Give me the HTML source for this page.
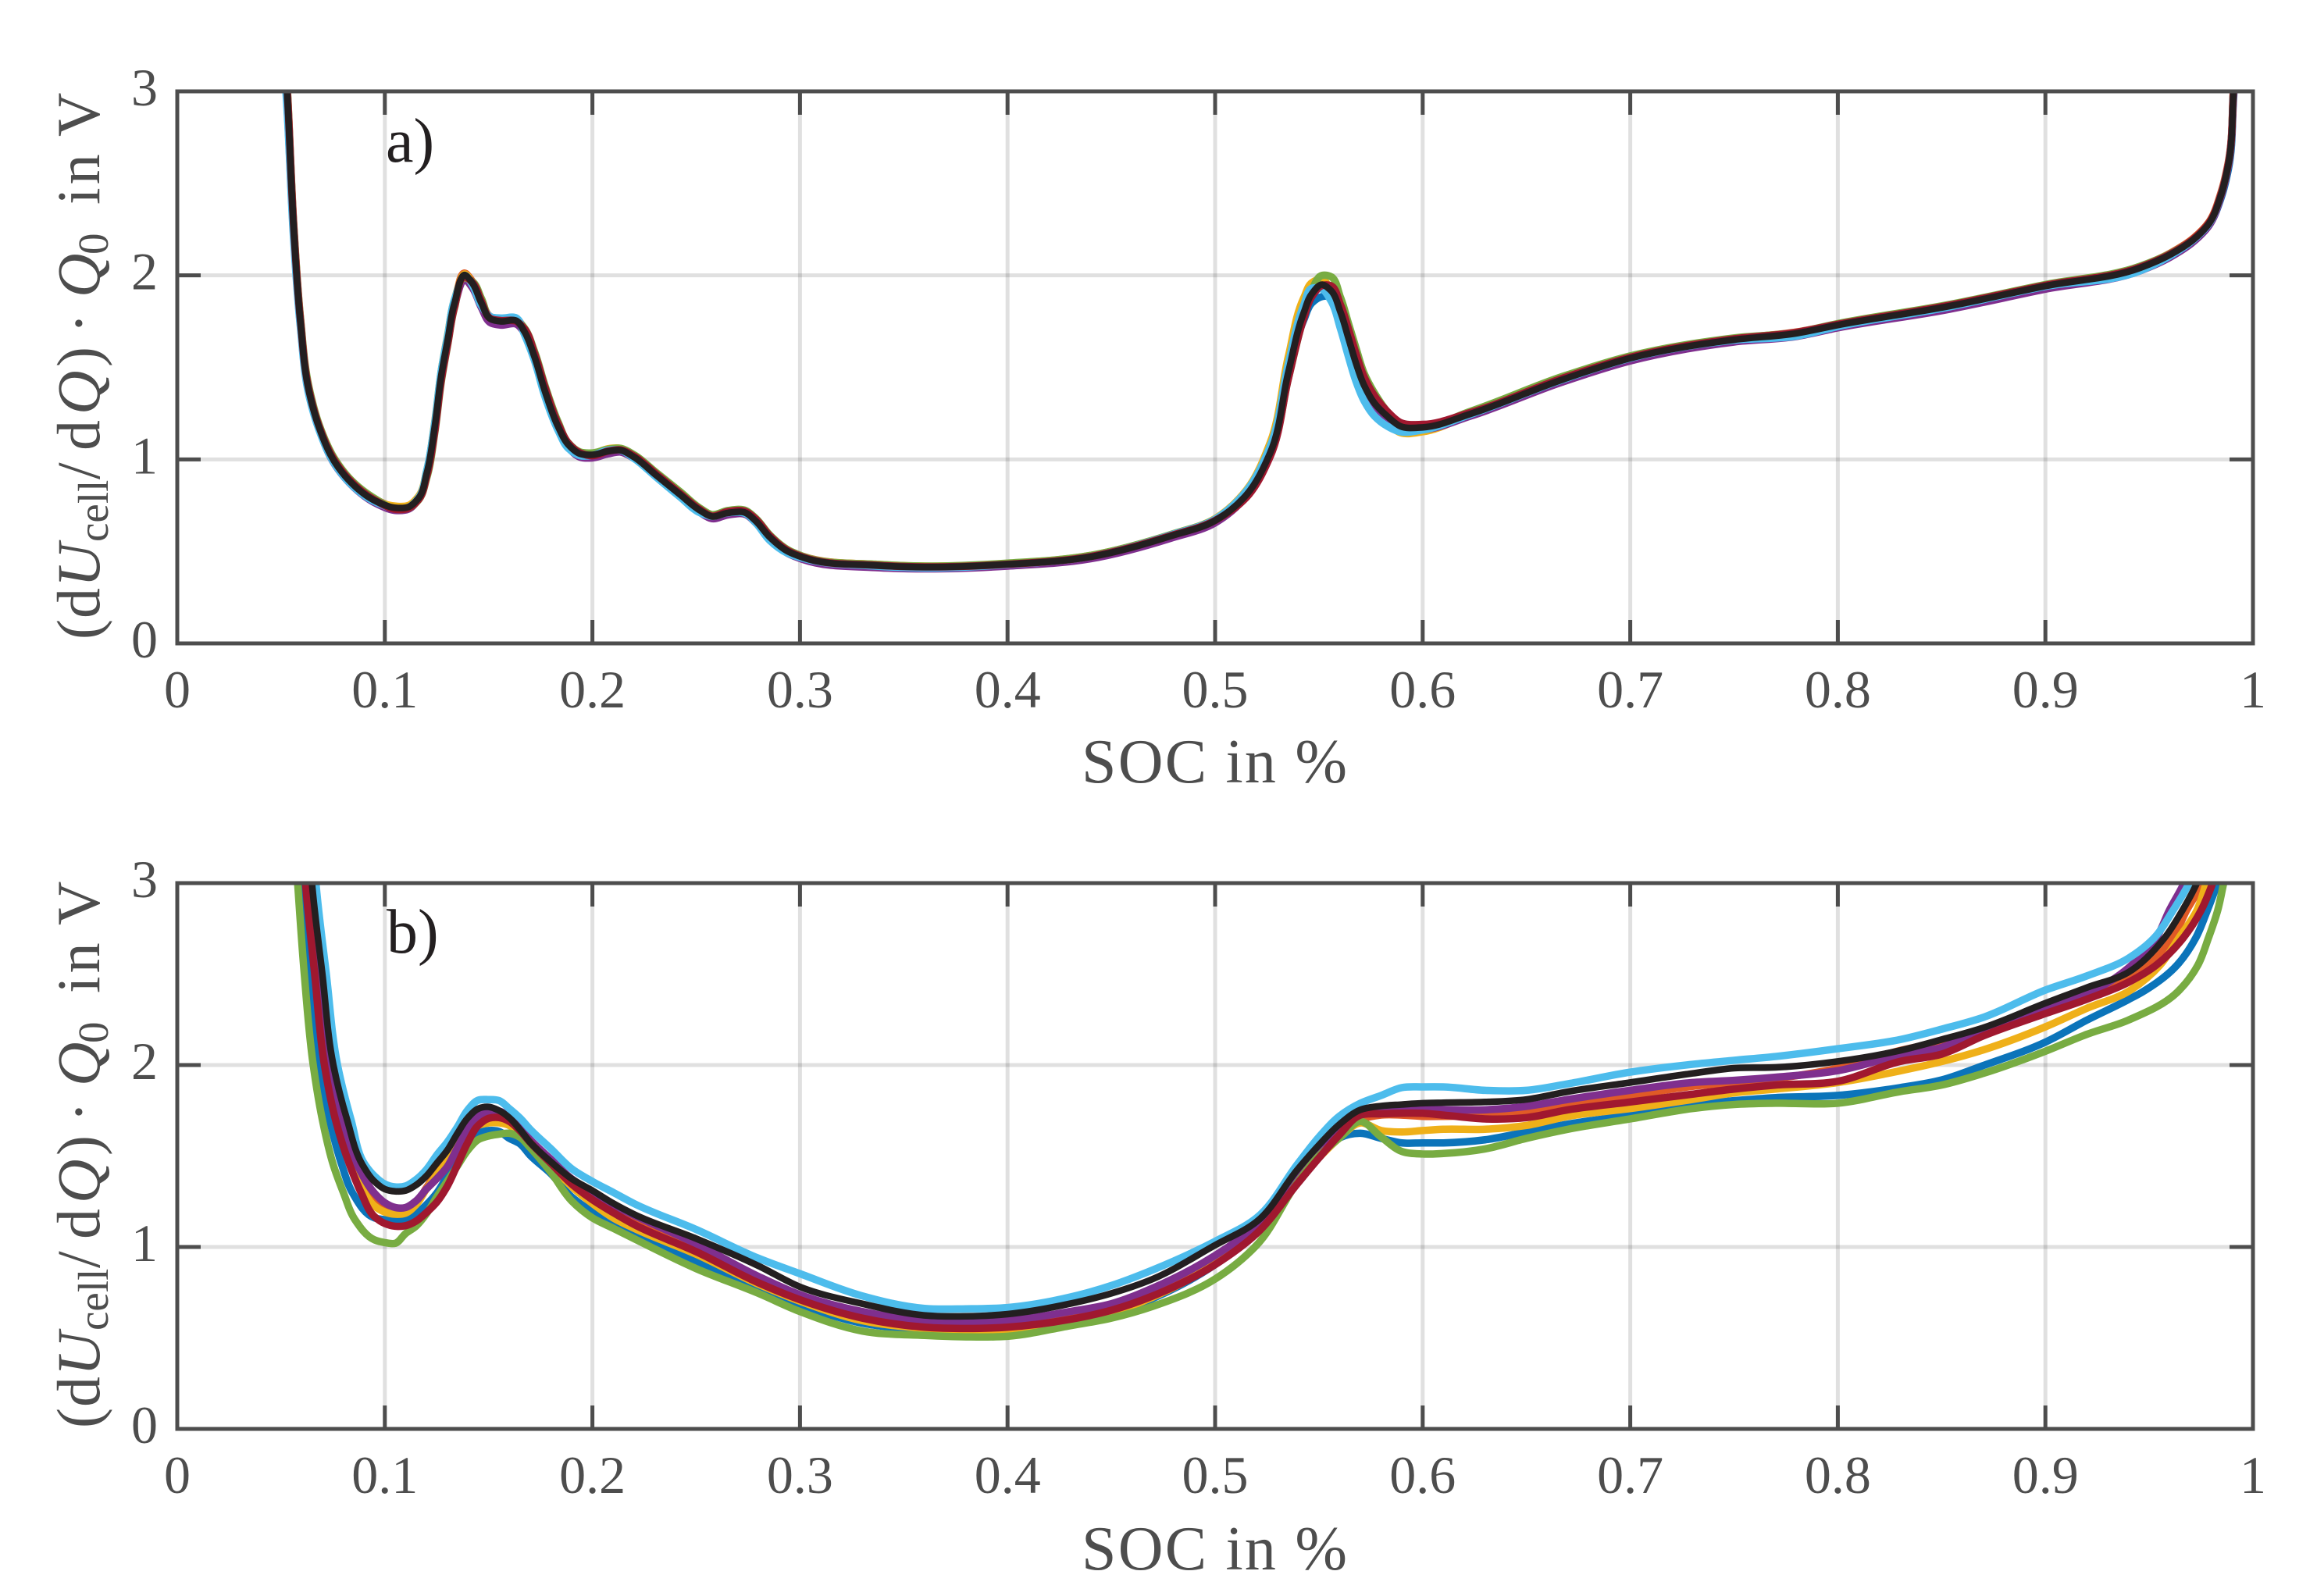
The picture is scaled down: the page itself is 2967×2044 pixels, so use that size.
<!DOCTYPE html>
<html lang="en">
<head>
<meta charset="utf-8">
<title>Differential voltage over SOC</title>
<style>
  html, body { margin: 0; padding: 0; background: #ffffff; }
  svg { display: block; }
  text { font-family: "Liberation Serif", "DejaVu Serif", serif; }
  .tick-label { font-size: 68px; fill: #4d4d4d; }
  .axis-label { font-size: 80px; fill: #4d4d4d; }
  .y-label { font-size: 78px; fill: #4d4d4d; }
  .panel-tag { font-size: 80px; fill: #231f20; }
  .sub { font-size: 55px; }
  .it { font-style: italic; }
</style>
</head>
<body>
<svg id="chart" xmlns="http://www.w3.org/2000/svg" width="2967" height="2044" viewBox="0 0 2967 2044">
  <rect x="0" y="0" width="2967" height="2044" fill="#ffffff"/>
  <defs>
    <clipPath id="clip-a"><rect x="227" y="117" width="2658" height="707"/></clipPath>
    <clipPath id="clip-b"><rect x="227" y="1131" width="2658" height="699"/></clipPath>
  </defs>
  <g id="panel-a"></g>
  <g id="panel-b"></g>

  <text class="panel-tag" x="494" y="207">a)</text>
  <text class="panel-tag" x="495" y="1220">b)</text>

  <text class="axis-label" x="1385" y="1002" textLength="340" lengthAdjust="spacing">SOC in %</text>
  <text class="axis-label" x="1385" y="2010" textLength="340" lengthAdjust="spacing">SOC in %</text>

  <g transform="translate(127,819) rotate(-90)">
    <text class="y-label"><tspan x="0" y="0">(</tspan><tspan x="27" y="0">d</tspan><tspan x="67" y="0" class="it">U</tspan><tspan x="125" y="11" class="sub">cell</tspan><tspan x="205" y="0">/</tspan><tspan x="242" y="0">d</tspan><tspan x="288" y="0" class="it">Q</tspan><tspan x="349" y="0">)</tspan><tspan x="392" y="0">·</tspan><tspan x="438" y="0" class="it">Q</tspan><tspan x="493" y="11" class="sub">0</tspan><tspan x="557" y="0" letter-spacing="4">in</tspan><tspan x="644" y="0">V</tspan></text>
  </g>
  <g transform="translate(127,1829) rotate(-90)">
    <text class="y-label"><tspan x="0" y="0">(</tspan><tspan x="27" y="0">d</tspan><tspan x="67" y="0" class="it">U</tspan><tspan x="125" y="11" class="sub">cell</tspan><tspan x="205" y="0">/</tspan><tspan x="242" y="0">d</tspan><tspan x="288" y="0" class="it">Q</tspan><tspan x="349" y="0">)</tspan><tspan x="392" y="0">·</tspan><tspan x="438" y="0" class="it">Q</tspan><tspan x="493" y="11" class="sub">0</tspan><tspan x="557" y="0" letter-spacing="4">in</tspan><tspan x="644" y="0">V</tspan></text>
  </g>
</svg>

<script>
// ---------- shared chart values ----------
const xTicks = [0, 0.1, 0.2, 0.3, 0.4, 0.5, 0.6, 0.7, 0.8, 0.9, 1];
const xTickLabels = ['0', '0.1', '0.2', '0.3', '0.4', '0.5', '0.6', '0.7', '0.8', '0.9', '1'];
const yTicks = [0, 1, 2, 3];
const yTickLabels = ['0', '1', '2', '3'];
const seriesNames = ['blue', 'orange', 'yellow', 'purple', 'green', 'light-blue', 'dark-red', 'black'];
const seriesColors = ['#0b74ba', '#e05a26', '#efb019', '#7f2f8e', '#78ac42', '#4dbcec', '#a0182f', '#231f20'];

// ---------- panel a values ----------
const aSoc = [
  .0515,.0529,.0562,.0593,.0635,.0683,.076,.0827,.0962,.1058,
  .1115,.1163,.1202,.124,.1273,.1304,.1336,.139,.1423,.1465,
  .151,.1557,.1634,.1672,.172,.1772,.1836,.1884,.1941,.1999,
  .2076,.2134,.2201,.2306,.2422,.2518,.2575,.2652,.2739,.2787,
  .2854,.294,.3017,.3363,.36,.4,.44,.4788,.5,.5152,
  .5265,.5353,.5428,.5466,.5516,.5554,.5604,.5642,.568,.5717,
  .5768,.583,.5893,.6,.6232,.6672,.7,.75,.78,.8,
  .852,.9,.9457,.96,.9716,.9788,.9846,.9882,.9906,.992];
const aBlue = [
  3.18,2.92,2.19,1.73,1.355,1.165,.975,.878,.762,.732,
  .74,.79,.935,1.19,1.48,1.675,1.862,1.985,1.945,1.84,
  1.752,1.742,1.748,1.688,1.55,1.355,1.165,1.068,1.02,1.015,
  1.04,1.048,1.008,.908,.802,.716,.684,.705,.707,.66,
  .57,.495,.46,.418,.41,.426,.466,.578,.66,.815,
  1.05,1.49,1.76,1.85,1.885,1.885,1.77,1.625,1.49,1.38,
  1.285,1.22,1.17,1.17,1.243,1.428,1.545,1.645,1.678,1.724,
  1.824,1.936,2.036,2.106,2.19,2.272,2.42,2.58,2.95,3.25];
const aOrange = [
  3.28,3.03,2.25,1.77,1.38,1.185,.993,.896,.778,.74,
  .745,.795,.92,1.165,1.45,1.645,1.84,2.01,1.965,1.86,
  1.775,1.762,1.765,1.705,1.57,1.378,1.185,1.085,1.035,1.03,
  1.05,1.058,1.02,.925,.82,.73,.695,.713,.714,.672,
  .583,.506,.472,.429,.419,.434,.476,.59,.675,.815,
  1.045,1.485,1.805,1.91,1.955,1.93,1.8,1.655,1.51,1.395,
  1.295,1.228,1.178,1.17,1.25,1.44,1.555,1.656,1.692,1.735,
  1.834,1.948,2.048,2.12,2.205,2.29,2.45,2.62,3.02,3.32];
const aYellow = [
  3.22,2.98,2.22,1.745,1.362,1.17,.98,.885,.772,.745,
  .75,.8,.94,1.2,1.49,1.685,1.87,2.005,1.955,1.845,
  1.77,1.765,1.765,1.69,1.555,1.362,1.17,1.075,1.03,1.03,
  1.058,1.06,1.015,.92,.812,.726,.695,.715,.712,.668,
  .58,.505,.47,.43,.42,.435,.478,.592,.678,.835,
  1.09,1.56,1.88,1.96,1.98,1.92,1.74,1.59,1.45,1.34,
  1.25,1.19,1.145,1.15,1.245,1.43,1.55,1.65,1.685,1.73,
  1.83,1.94,2.04,2.112,2.2,2.285,2.44,2.61,3,3.3];
const aPurple = [
  3.24,2.99,2.23,1.748,1.36,1.165,.97,.875,.758,.722,
  .73,.785,.92,1.17,1.455,1.645,1.835,1.975,1.93,1.825,
  1.742,1.73,1.735,1.69,1.555,1.36,1.165,1.065,1.012,1.008,
  1.03,1.04,1.005,.91,.8,.712,.678,.698,.7,.655,
  .57,.49,.455,.412,.405,.42,.46,.572,.655,.8,
  1.03,1.47,1.79,1.885,1.94,1.915,1.795,1.655,1.51,1.395,
  1.295,1.222,1.168,1.162,1.236,1.42,1.535,1.638,1.668,1.715,
  1.812,1.925,2.025,2.098,2.185,2.27,2.43,2.6,2.98,3.28];
const aGreen = [
  3.3,3.04,2.26,1.775,1.39,1.19,1,.9,.78,.728,
  .735,.78,.9,1.14,1.43,1.63,1.825,1.985,1.965,1.875,
  1.77,1.755,1.76,1.715,1.59,1.4,1.2,1.09,1.04,1.035,
  1.055,1.06,1.025,.93,.825,.735,.7,.722,.722,.68,
  .59,.51,.472,.43,.42,.436,.478,.592,.675,.8,
  1.02,1.44,1.78,1.92,2,1.995,1.88,1.74,1.6,1.47,
  1.36,1.26,1.195,1.18,1.262,1.45,1.562,1.66,1.69,1.738,
  1.838,1.95,2.05,2.118,2.2,2.285,2.44,2.61,3,3.3];
const aLightBlue = [
  3.15,2.9,2.17,1.72,1.345,1.16,.972,.876,.764,.732,
  .74,.792,.94,1.195,1.49,1.68,1.87,1.998,1.945,1.835,
  1.775,1.768,1.768,1.68,1.54,1.34,1.155,1.06,1.02,1.022,
  1.05,1.05,1.005,.905,.796,.71,.69,.71,.705,.655,
  .56,.49,.462,.42,.41,.428,.472,.59,.675,.83,
  1.07,1.52,1.84,1.93,1.925,1.87,1.71,1.56,1.42,1.32,
  1.235,1.18,1.15,1.16,1.245,1.432,1.55,1.648,1.67,1.722,
  1.825,1.94,2.025,2.105,2.195,2.28,2.44,2.61,3,3.3];
const aRed = [
  3.27,3.02,2.245,1.76,1.375,1.18,.99,.892,.772,.728,
  .735,.782,.91,1.15,1.44,1.635,1.83,1.99,1.96,1.86,
  1.765,1.755,1.75,1.71,1.58,1.39,1.19,1.088,1.035,1.02,
  1.045,1.052,1.018,.922,.815,.728,.692,.716,.716,.675,
  .585,.505,.468,.425,.416,.43,.472,.586,.668,.795,
  1.015,1.44,1.77,1.885,1.945,1.945,1.84,1.71,1.57,1.45,
  1.345,1.26,1.2,1.19,1.255,1.44,1.555,1.655,1.69,1.734,
  1.834,1.946,2.045,2.115,2.2,2.285,2.44,2.61,3,3.3];
const aBlack = [
  3.25,3,2.235,1.753,1.368,1.175,.983,.886,.77,.736,
  .742,.79,.925,1.175,1.464,1.657,1.85,2,1.956,1.85,
  1.763,1.75,1.753,1.695,1.56,1.368,1.175,1.08,1.03,1.025,
  1.044,1.05,1.012,.915,.809,.723,.69,.709,.709,.665,
  .578,.501,.466,.424,.415,.43,.47,.584,.667,.809,
  1.035,1.475,1.8,1.9,1.95,1.922,1.8,1.66,1.518,1.404,
  1.305,1.234,1.18,1.174,1.248,1.433,1.55,1.65,1.685,1.73,
  1.829,1.942,2.041,2.112,2.197,2.281,2.437,2.607,3,3.3];

// ---------- panel b values ----------
const bSoc = [
  .095,.1,.105,.11,.115,.12,.125,.13,.135,.14,.145,.15,.155,.16,.165,.17,.18,.19,.2,.21,.22,
  .25,.28,.3,.33,.36,.38,.4,.43,.45,.47,.5,.52,.54,
  .55,.56,.57,.58,.59,.6,.61,.63,.65,.67,.7,.73,.75,.77,.8,.83,.85,.87,.9,.92,.94];
const bBlue = [
  1.16,1.15,1.149,1.152,1.182,1.232,1.296,1.389,1.489,1.575,1.625,1.64,1.635,1.597,1.568,1.504,1.403,1.275,1.196,1.146,1.08,
  .917,.767,.681,.581,.545,.534,.542,.588,.631,.717,.903,1.082,1.353,
  1.49,1.6,1.625,1.597,1.572,1.572,1.572,1.589,1.632,1.675,1.725,1.783,1.804,1.821,1.833,1.876,1.918,1.997,2.126,2.247,2.36];
const bOrange = [
  1.253,1.21,1.196,1.2,1.239,1.325,1.41,1.489,1.597,1.682,1.725,1.74,1.732,1.697,1.64,1.575,1.468,1.36,1.282,1.21,1.146,
  1.01,.824,.724,.624,.581,.567,.574,.609,.667,.752,.931,1.096,1.353,
  1.5,1.63,1.7,1.725,1.725,1.718,1.718,1.725,1.747,1.79,1.833,1.883,1.904,1.926,1.983,2.08,2.13,2.2,2.31,2.405,2.476];
const bYellow = [
  1.225,1.192,1.18,1.186,1.232,1.318,1.396,1.468,1.575,1.64,1.668,1.682,1.682,1.668,1.625,1.56,1.453,1.332,1.239,1.16,1.103,
  .96,.795,.702,.595,.552,.538,.545,.581,.638,.724,.91,1.089,1.36,
  1.49,1.6,1.682,1.64,1.632,1.64,1.647,1.647,1.668,1.718,1.761,1.811,1.847,1.868,1.904,1.968,2.019,2.083,2.21,2.312,2.405];
const bPurple = [
  1.296,1.243,1.217,1.217,1.253,1.318,1.375,1.44,1.546,1.647,1.718,1.74,1.747,1.71,1.654,1.59,1.482,1.375,1.303,1.232,1.175,
  1.017,.838,.738,.645,.595,.588,.595,.645,.688,.774,.953,1.117,1.375,
  1.518,1.647,1.725,1.74,1.747,1.754,1.754,1.754,1.773,1.811,1.861,1.904,1.916,1.933,1.969,2.054,2.097,2.19,2.31,2.39,2.534];
const bGreen = [
  1.039,1.024,1.02,1.074,1.114,1.182,1.275,1.36,1.446,1.532,1.59,1.61,1.62,1.625,1.604,1.546,1.41,1.253,1.16,1.103,1.046,
  .881,.745,.645,.538,.514,.506,.509,.567,.609,.674,.824,1.01,1.36,
  1.5,1.6,1.69,1.604,1.525,1.511,1.514,1.539,1.597,1.647,1.704,1.761,1.783,1.79,1.79,1.854,1.89,1.954,2.076,2.169,2.247];
const bLightBlue = [
  1.39,1.346,1.33,1.335,1.37,1.425,1.505,1.575,1.66,1.754,1.807,1.81,1.805,1.76,1.71,1.647,1.54,1.43,1.36,1.3,1.239,
  1.096,.938,.853,.731,.662,.66,.667,.724,.788,.874,1.031,1.16,1.46,
  1.604,1.72,1.79,1.833,1.876,1.88,1.88,1.861,1.861,1.897,1.961,2.004,2.026,2.047,2.09,2.14,2.197,2.262,2.412,2.49,2.587];
const bRed = [
  1.167,1.129,1.114,1.117,1.142,1.189,1.246,1.332,1.453,1.575,1.668,1.707,1.711,1.69,1.64,1.575,1.46,1.346,1.26,1.189,1.124,
  .974,.803,.71,.609,.559,.552,.559,.602,.652,.731,.903,1.074,1.353,
  1.489,1.618,1.725,1.732,1.735,1.735,1.725,1.704,1.711,1.754,1.797,1.84,1.868,1.89,1.911,2.02,2.06,2.16,2.283,2.362,2.455];
const bBlack = [
  1.36,1.318,1.306,1.31,1.34,1.39,1.46,1.53,1.625,1.71,1.76,1.77,1.75,1.71,1.647,1.575,1.468,1.375,1.31,1.24,1.18,
  1.046,.896,.781,.688,.624,.619,.631,.688,.745,.824,1.01,1.139,1.43,
  1.56,1.675,1.754,1.775,1.783,1.79,1.793,1.797,1.811,1.854,1.904,1.954,1.983,1.987,2.02,2.08,2.14,2.205,2.34,2.426,2.51];

// Steep left flank: SOC read at shared voltage levels (first n levels apply)
const bHeadLevels = [3.3, 3, 2.5, 2, 1.7, 1.45, 1.3, 1.15];
const bHeadBlue = [.0585,.0603,.0639,.0684,.0734,.0793,.0843];
const bHeadOrange = [.0609,.0627,.0673,.0722,.0774,.0847,.0915];
const bHeadYellow = [.0606,.0624,.0669,.0718,.0771,.0843,.09];
const bHeadPurple = [.0617,.0635,.0683,.0737,.0793,.0868];
const bHeadGreen = [.0562,.058,.0612,.0655,.0699,.0752,.08,.0856];
const bHeadLightBlue = [.065,.0668,.0718,.0772,.0837,.0906];
const bHeadRed = [.06,.0618,.0662,.0709,.0762,.0831,.0885];
const bHeadBlack = [.0631,.0649,.0699,.0752,.0818,.0893];

// Steep right flank: SOC read at shared voltage levels (last n levels apply)
const bTailLevels = [2.4, 2.55, 2.7, 2.85, 3, 3.3];
const bTailBlue = [.9465,.9635,.9725,.978,.9829,.99];
const bTailOrange = [.9495,.9615,.968,.9758,.985];
const bTailYellow = [.9553,.9644,.973,.9775,.986];
const bTailPurple = [.9535,.9597,.9668,.976];
const bTailGreen = [.9635,.9735,.9786,.983,.9859,.992];
const bTailLightBlue = [.9525,.9615,.9693,.979];
const bTailRed = [.9535,.9665,.975,.9806,.988];
const bTailBlack = [.9575,.966,.973,.982];

// ---------- drawing ----------
const NS = 'http://www.w3.org/2000/svg';
const plotLeft = 227;
const plotRight = 2885;
const axisColor = '#4d4d4d';

function make(tag, attrs) {
  const el = document.createElementNS(NS, tag);
  Object.keys(attrs).forEach(function (k) { el.setAttribute(k, attrs[k]); });
  return el;
}
function xScale(s) { return plotLeft + (plotRight - plotLeft) * s; }
function yScaler(top, bottom) { return function (v) { return bottom - (bottom - top) * v / 3; }; }

// Chord-length parameterised Catmull-Rom: no overshoot on unevenly spaced points
function tangentAt(pts, i) {
  const p = pts[i];
  const a = pts[Math.max(i - 1, 0)];
  const b = pts[Math.min(i + 1, pts.length - 1)];
  const d0 = Math.hypot(p[0] - a[0], p[1] - a[1]) || 1;
  const d1 = Math.hypot(b[0] - p[0], b[1] - p[1]) || 1;
  const w = d0 + d1;
  return [
    ((p[0] - a[0]) / d0) * (d1 / w) + ((b[0] - p[0]) / d1) * (d0 / w),
    ((p[1] - a[1]) / d0) * (d1 / w) + ((b[1] - p[1]) / d1) * (d0 / w)
  ];
}
function smoothPath(pts) {
  let d = 'M' + pts[0][0].toFixed(2) + ' ' + pts[0][1].toFixed(2);
  for (let i = 0; i < pts.length - 1; i++) {
    const p1 = pts[i];
    const p2 = pts[i + 1];
    const len = Math.hypot(p2[0] - p1[0], p2[1] - p1[1]);
    const t1 = tangentAt(pts, i);
    const t2 = tangentAt(pts, i + 1);
    const c1x = p1[0] + t1[0] * len / 3;
    const c1y = p1[1] + t1[1] * len / 3;
    const c2x = p2[0] - t2[0] * len / 3;
    const c2y = p2[1] - t2[1] * len / 3;
    d += 'C' + c1x.toFixed(2) + ' ' + c1y.toFixed(2) + ' ' + c2x.toFixed(2) + ' ' + c2y.toFixed(2) + ' ' + p2[0].toFixed(2) + ' ' + p2[1].toFixed(2);
  }
  return d;
}

function drawFrame(root, top, bottom, yPos) {
  // grid lines
  xTicks.forEach(function (t) {
    if (t === 0 || t === 1) return;
    const grid = make('line', { x1: xScale(t), x2: xScale(t), y1: top, y2: bottom, stroke: '#000000', 'stroke-opacity': 0.12, 'stroke-width': 5 });
    
    
    root.appendChild(grid);
  });
  yTicks.forEach(function (t) {
    if (t === 0 || t === 3) return;
    const grid = make('line', { x1: plotLeft, x2: plotRight, y1: yPos(t), y2: yPos(t), stroke: '#000000', 'stroke-opacity': 0.12, 'stroke-width': 5 });
    
    
    root.appendChild(grid);
  });
}

function drawAxes(root, top, bottom, yPos) {
  const tickLen = 30;
  xTicks.forEach(function (t, i) {
    if (t !== 0 && t !== 1) {
      const low = make('line', { x1: xScale(t), x2: xScale(t), y1: bottom, y2: bottom - tickLen, stroke: axisColor, 'stroke-width': 5 });
      
      
      root.appendChild(low);
      const high = make('line', { x1: xScale(t), x2: xScale(t), y1: top, y2: top + tickLen, stroke: axisColor, 'stroke-width': 5 });
      
      
      root.appendChild(high);
    }
    const label = make('text', { class: 'tick-label', x: xScale(t), y: bottom + 82, 'text-anchor': 'middle' });
    label.textContent = xTickLabels[i];
    
    
    root.appendChild(label);
  });
  yTicks.forEach(function (t, i) {
    if (t !== 0 && t !== 3) {
      const left = make('line', { x1: plotLeft, x2: plotLeft + tickLen, y1: yPos(t), y2: yPos(t), stroke: axisColor, 'stroke-width': 5 });
      
      
      root.appendChild(left);
      const right = make('line', { x1: plotRight, x2: plotRight - tickLen, y1: yPos(t), y2: yPos(t), stroke: axisColor, 'stroke-width': 5 });
      
      
      root.appendChild(right);
    }
    const label = make('text', { class: 'tick-label', x: 202, y: yPos(t) + 18, 'text-anchor': 'end' });
    label.textContent = yTickLabels[i];
    
    
    root.appendChild(label);
  });
  const box = make('rect', { x: plotLeft, y: top, width: plotRight - plotLeft, height: bottom - top, fill: 'none', stroke: axisColor, 'stroke-width': 5 });
  
  
  root.appendChild(box);
}

function drawSeries(root, clipId, index, pts) {
  const line = make('path', {
    d: smoothPath(pts), fill: 'none', stroke: seriesColors[index], 'stroke-width': index === 7 ? 8.5 : 9.5,
    'stroke-linejoin': 'round', 'stroke-linecap': 'butt', 'clip-path': 'url(#' + clipId + ')'
  });
  
  
  root.appendChild(line);
}

// panel a
const panelA = document.getElementById('panel-a');
const aY = yScaler(117, 824);
const aValues = [aBlue, aOrange, aYellow, aPurple, aGreen, aLightBlue, aRed, aBlack];
drawFrame(panelA, 117, 824, aY);
aValues.forEach(function (vals, idx) {
  const pts = vals.map(function (v, i) { return [xScale(aSoc[i]), aY(v)]; });
  drawSeries(panelA, 'clip-a', idx, pts);
});
drawAxes(panelA, 117, 824, aY);

// panel b
const panelB = document.getElementById('panel-b');
const bY = yScaler(1131, 1830);
const bValues = [bBlue, bOrange, bYellow, bPurple, bGreen, bLightBlue, bRed, bBlack];
const bHeads = [bHeadBlue, bHeadOrange, bHeadYellow, bHeadPurple, bHeadGreen, bHeadLightBlue, bHeadRed, bHeadBlack];
const bTails = [bTailBlue, bTailOrange, bTailYellow, bTailPurple, bTailGreen, bTailLightBlue, bTailRed, bTailBlack];
drawFrame(panelB, 1131, 1830, bY);
bValues.forEach(function (vals, idx) {
  const head = bHeads[idx].map(function (s, i) { return [xScale(s), bY(bHeadLevels[i])]; });
  const mid = vals.map(function (v, i) { return [xScale(bSoc[i]), bY(v)]; });
  const tailOffset = bTailLevels.length - bTails[idx].length;
  const tail = bTails[idx].map(function (s, i) { return [xScale(s), bY(bTailLevels[i + tailOffset])]; });
  drawSeries(panelB, 'clip-b', idx, head.concat(mid, tail));
});
drawAxes(panelB, 1131, 1830, bY);
</script>
</body>
</html>
